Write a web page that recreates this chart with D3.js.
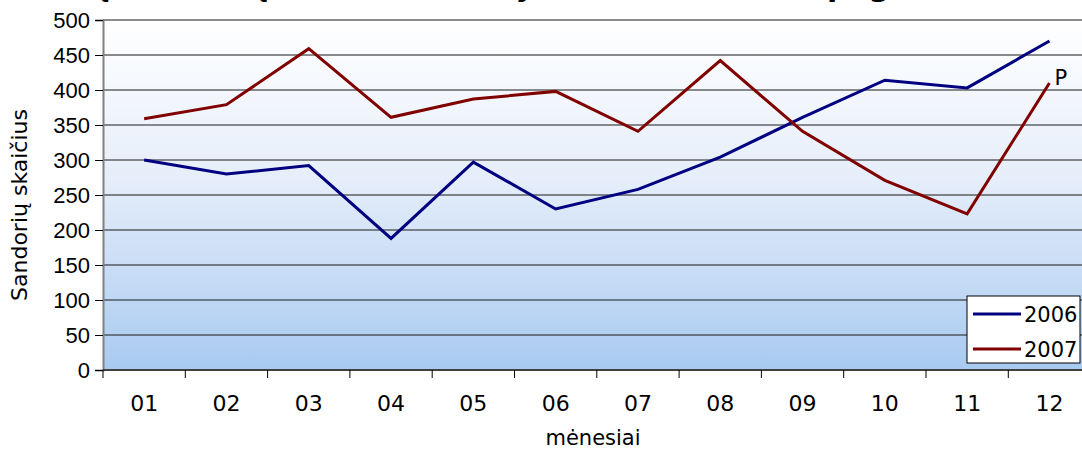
<!DOCTYPE html>
<html>
<head>
<meta charset="utf-8">
<script src="https://cdn.jsdelivr.net/npm/d3@7"></script>
<style>
    body { margin: 0; background: #fff; }
    svg { display: block; font-family: "DejaVu Sans", Verdana, sans-serif; }
    .axis text { font-size: 22px; fill: #000; }
    .series { fill: none; stroke-width: 3; stroke-linejoin: miter; }
    .axis-title { font-size: 21px; fill: #000; }
</style>
</head>
<body>
<svg id="svg"></svg>
<script>
const months = ['01', '02', '03', '04', '05', '06', '07', '08', '09', '10', '11', '12'];
const values2006 = [300, 280, 292, 188, 297, 230, 258, 304, 361, 414, 403, 470];
const values2007 = [359, 379, 459, 361, 387, 398, 341, 442, 341, 271, 223, 410];
const yTicks = [0, 50, 100, 150, 200, 250, 300, 350, 400, 450, 500];
const seriesNames = ['2006', '2007'];

const width = 1082, height = 450;
const margin = {top: 20, left: 103, bottom: 80};
const plotW = 12 * 82.3;
const plotH = height - margin.top - margin.bottom;

const svg = d3.select('#svg').attr('width', width).attr('height', height);

const defs = svg.append('defs');
const grad = defs.append('linearGradient')
    .attr('id', 'bg').attr('x1', 0).attr('y1', 0).attr('x2', 0).attr('y2', 1);
grad.append('stop').attr('offset', '0%').attr('stop-color', '#ffffff');
grad.append('stop').attr('offset', '45%').attr('stop-color', '#e6eefa');
grad.append('stop').attr('offset', '100%').attr('stop-color', '#a8caf0');

// title is cropped off the top in the source image, only descenders show
svg.append('text')
    .attr('x', 560).attr('y', -4)
    .attr('text-anchor', 'middle')
    .style('font-size', '30px').style('font-weight', 'bold')
    .text('Butų sandorių skaičius Vilniuje 2006 – 2007 m. pagal mėnesius');

const g = svg.append('g')
    .attr('transform', 'translate(' + margin.left + ',' + margin.top + ')');

const xScale = d3.scaleBand().domain(months).range([0, plotW]);
const yScale = d3.scaleLinear().domain([0, 500]).range([plotH, 0]);

g.append('rect')
    .attr('width', plotW).attr('height', plotH)
    .attr('fill', 'url(#bg)');

g.append('g').attr('class', 'grid-lines')
    .selectAll('line')
    .data(yTicks.filter(d => d > 0))
    .enter().append('line')
    .attr('x1', 0).attr('x2', plotW)
    .attr('y1', d => yScale(d)).attr('y2', d => yScale(d))
    .style('stroke', d => d === 500 ? '#8c8c8c' : '#1a1a1a')
    .style('stroke-width', d => d === 500 ? 2 : 1);

// y axis
const yAxis = d3.axisLeft(yScale).tickValues(yTicks).tickSize(8).tickPadding(5);
g.append('g').attr('class', 'axis axis-y').call(yAxis)
    .call(s => s.select('.domain').attr('stroke', '#808080').attr('stroke-width', 2))
    .call(s => s.selectAll('.tick line').attr('stroke', '#000'));

// x axis: ticks at band boundaries
const xAxisG = g.append('g').attr('class', 'axis axis-x')
    .attr('transform', 'translate(0,' + plotH + ')');
xAxisG.append('line').attr('x1', 0).attr('x2', plotW)
    .attr('stroke', '#404040').attr('stroke-width', 2);
xAxisG.selectAll('.tick-mark')
    .data(months)
    .enter().append('line')
    .attr('class', 'tick-mark')
    .attr('x1', d => xScale(d)).attr('x2', d => xScale(d))
    .attr('y1', 0).attr('y2', 8)
    .attr('stroke', '#000');
xAxisG.selectAll('text')
    .data(months)
    .enter().append('text')
    .attr('x', d => xScale(d) + xScale.bandwidth() / 2)
    .attr('y', 41)
    .attr('text-anchor', 'middle')
    .text(d => d);

const line = d3.line()
    .x((d, i) => xScale(months[i]) + xScale.bandwidth() / 2)
    .y(d => yScale(d));

g.append('path').attr('class', 'series')
    .attr('stroke', '#000080').attr('d', line(values2006));
g.append('path').attr('class', 'series')
    .attr('stroke', '#800000').attr('d', line(values2007));

// "P" label next to last 2007 point
g.append('text')
    .attr('x', xScale('12') + xScale.bandwidth() / 2 + 5)
    .attr('y', yScale(values2007[11]) + 2)
    .style('font-size', '21px')
    .text('P');

// axis titles
svg.append('text').attr('class', 'axis-title')
    .attr('transform', 'translate(27,' + (margin.top + plotH / 2 + 10) + ') rotate(-90)')
    .attr('text-anchor', 'middle')
    .style('font-size', '22px')
    .text('Sandorių skaičius');
svg.append('text').attr('class', 'axis-title')
    .attr('x', 593).attr('y', 445)
    .attr('text-anchor', 'middle')
    .text('mėnesiai');

// legend
const legend = svg.append('g').attr('transform', 'translate(967,296)');
legend.append('rect')
    .attr('width', 113).attr('height', 67)
    .attr('fill', '#fff').attr('stroke', '#000').attr('stroke-width', 1);
const legendColors = ['#000080', '#800000'];
seriesNames.forEach((name, i) => {
    const y = 18 + i * 35;
    legend.append('line')
        .attr('x1', 6).attr('x2', 54).attr('y1', y).attr('y2', y)
        .attr('stroke', legendColors[i]).attr('stroke-width', 3);
    legend.append('text')
        .attr('x', 57).attr('y', y + 8)
        .style('font-size', '21px')
        .text(name);
});
</script>
</body>
</html>
